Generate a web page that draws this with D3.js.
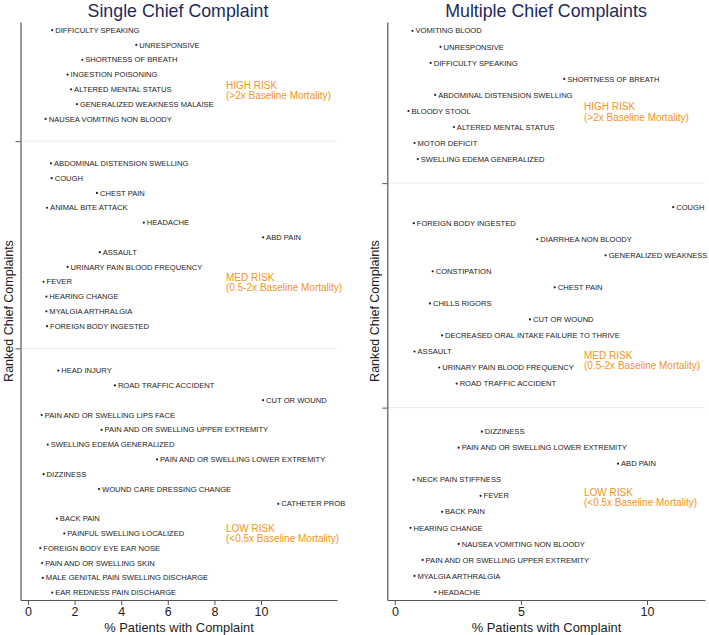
<!DOCTYPE html>
<html><head><meta charset="utf-8">
<script src="https://cdn.jsdelivr.net/npm/d3@7"></script>
<style>body{margin:0;background:#fff}svg{display:block}</style>
</head><body><svg id="c" width="709" height="635"></svg>
<script>
// ---- Single chief complaint ----
const singleHighNames = ["DIFFICULTY SPEAKING","UNRESPONSIVE","SHORTNESS OF BREATH","INGESTION POISONING","ALTERED MENTAL STATUS","GENERALIZED WEAKNESS MALAISE","NAUSEA VOMITING NON BLOODY"];
const singleHighVals = [1.04,4.65,2.33,1.70,1.85,2.10,0.76];
const singleMedNames = ["ABDOMINAL DISTENSION SWELLING","COUGH","CHEST PAIN","ANIMAL BITE ATTACK","HEADACHE","ABD PAIN","ASSAULT","URINARY PAIN BLOOD FREQUENCY","FEVER","HEARING CHANGE","MYALGIA ARTHRALGIA","FOREIGN BODY INGESTED"];
const singleMedVals = [0.99,1.02,2.96,0.82,4.97,10.09,3.08,1.70,0.67,0.79,0.79,0.82];
const singleLowNames = ["HEAD INJURY","ROAD TRAFFIC ACCIDENT","CUT OR WOUND","PAIN AND OR SWELLING LIPS FACE","PAIN AND OR SWELLING UPPER EXTREMITY","SWELLING EDEMA GENERALIZED","PAIN AND OR SWELLING LOWER EXTREMITY","DIZZINESS","WOUND CARE DRESSING CHANGE","CATHETER PROB","BACK PAIN","PAINFUL SWELLING LOCALIZED","FOREIGN BODY EYE EAR NOSE","PAIN AND OR SWELLING SKIN","MALE GENITAL PAIN SWELLING DISCHARGE","EAR REDNESS PAIN DISCHARGE"];
const singleLowVals = [1.30,3.73,10.09,0.59,3.16,0.85,5.54,0.67,3.05,10.74,1.24,1.56,0.53,0.61,0.64,1.04];
const singleTicks = [0,2,4,6,8,10];

// ---- Multiple chief complaints ----
const multiHighNames = ["VOMITING BLOOD","UNRESPONSIVE","DIFFICULTY SPEAKING","SHORTNESS OF BREATH","ABDOMINAL DISTENSION SWELLING","BLOODY STOOL","ALTERED MENTAL STATUS","MOTOR DEFICIT","SWELLING EDEMA GENERALIZED"];
const multiHighVals = [0.70,1.81,1.42,6.72,1.60,0.54,2.34,0.78,0.91];
const multiMedNames = ["COUGH","FOREIGN BODY INGESTED","DIARRHEA NON BLOODY","GENERALIZED WEAKNESS","CONSTIPATION","CHEST PAIN","CHILLS RIGORS","CUT OR WOUND","DECREASED ORAL INTAKE FAILURE TO THRIVE","ASSAULT","URINARY PAIN BLOOD FREQUENCY","ROAD TRAFFIC ACCIDENT"];
const multiMedVals = [11.04,0.75,5.65,8.36,1.50,6.34,1.39,5.36,1.87,0.78,1.76,2.45];
const multiLowNames = ["DIZZINESS","PAIN AND OR SWELLING LOWER EXTREMITY","ABD PAIN","NECK PAIN STIFFNESS","FEVER","BACK PAIN","HEARING CHANGE","NAUSEA VOMITING NON BLOODY","PAIN AND OR SWELLING UPPER EXTREMITY","MYALGIA ARTHRALGIA","HEADACHE"];
const multiLowVals = [3.45,2.53,8.85,0.75,3.40,1.87,0.62,2.53,1.10,0.78,1.60];
const multiTicks = [0,5,10];

const riskTitles = ["HIGH RISK","MED RISK","LOW RISK"];
const riskSubs = ["(>2x Baseline Mortality)","(0.5-2x Baseline Mortality)","(<0.5x Baseline Mortality)"];

const svg = d3.select("#c");
const FONT = "'Liberation Sans', Arial, Helvetica, sans-serif";
const ORANGE = "#f39323";

function panel(opt){
  const groups = opt.groups;
  const rows = []; const seps = []; const groupRange = [];
  let idx = 0;
  groups.forEach((g,gi)=>{
    if(gi>0){ seps.push(idx + 0.5); idx += 2; }
    const start = idx;
    g.names.forEach((n,i)=>{ rows.push({name:n, v:g.vals[i], r:idx}); idx++; });
    groupRange.push([start, idx-1]);
  });
  const nRows = idx - 1;
  const y = d3.scaleLinear().domain([-0.55, nRows + 0.5]).range([opt.top, opt.bottom]);
  const x = d3.scaleLinear().domain(opt.xDomain).range([opt.left, opt.right]);
  const g = svg.append("g");

  g.selectAll("line.sep").data(seps).join("line")
    .attr("x1", opt.left).attr("x2", opt.right)
    .attr("y1", d=>y(d)).attr("y2", d=>y(d))
    .attr("stroke", "#e6eef0").attr("stroke-width", 1);

  const ya = d3.axisLeft(y).tickValues(seps).tickFormat("").tickSize(5).tickSizeOuter(0);
  const yg = g.append("g").attr("transform", `translate(${opt.left},0)`).call(ya);
  yg.select(".domain").attr("stroke", "#555").attr("stroke-width", 1.2);
  yg.selectAll(".tick line").attr("stroke", "#555");

  const xa = d3.axisBottom(x).tickValues(opt.ticks).tickSize(5).tickSizeOuter(0).tickFormat(d3.format("d"));
  const xg = g.append("g").attr("transform", `translate(0,${opt.bottom})`).call(xa);
  xg.select(".domain").attr("stroke", "#555").attr("stroke-width", 1.2);
  xg.selectAll(".tick line").attr("stroke", "#555");
  xg.selectAll(".tick text").attr("font-family", FONT).attr("font-size", 12.5).attr("fill", "#222")
    .attr("y", 7).attr("dy", "0.71em");

  g.selectAll("circle.pt").data(rows).join("circle")
    .attr("cx", d=>x(d.v)).attr("cy", d=>y(d.r)).attr("r", 1.1).attr("fill", "#222");
  g.selectAll("text.lbl").data(rows).join("text")
    .attr("x", d=>x(d.v)+3).attr("y", d=>y(d.r)).attr("dy", "0.35em")
    .attr("font-family", FONT).attr("font-size", 7.6).attr("fill", "#222")
    .text(d=>d.name);

  groupRange.forEach((gr,i)=>{
    const t = g.append("text").attr("font-family", FONT).attr("font-size", 10).attr("fill", ORANGE)
      .attr("x", opt.riskX).attr("y", opt.riskY[i]);
    t.append("tspan").attr("x", opt.riskX).text(riskTitles[i]);
    t.append("tspan").attr("x", opt.riskX).attr("dy", 10.8).text(riskSubs[i]);
  });

  svg.append("text").attr("x", opt.titleX).attr("y", 17).attr("text-anchor","middle")
    .attr("font-family", FONT).attr("font-size", 17.8).attr("fill", "#1d2a5a").text(opt.title);
  svg.append("text").attr("x", opt.xTitleX).attr("y", 632).attr("text-anchor","middle")
    .attr("font-family", FONT).attr("font-size", 12.9).attr("fill", "#222").text("% Patients with Complaint");
  svg.append("text").attr("transform", `translate(${opt.left-8},${(opt.top+opt.bottom)/2}) rotate(-90)`)
    .attr("text-anchor","middle").attr("font-family", FONT).attr("font-size", 12.5).attr("fill", "#222")
    .text("Ranked Chief Complaints");
}

panel({
  title: "Single Chief Complaint", titleX: 178, xTitleX: 179,
  groups: [{names:singleHighNames, vals:singleHighVals},{names:singleMedNames, vals:singleMedVals},{names:singleLowNames, vals:singleLowVals}],
  left: 20.5, right: 337, top: 22, bottom: 600, xDomain: [-0.32, 13.26], ticks: singleTicks,
  riskX: 226, riskY: [88.5, 280.5, 531.5]
});
panel({
  title: "Multiple Chief Complaints", titleX: 546, xTitleX: 546.5,
  groups: [{names:multiHighNames, vals:multiHighVals},{names:multiMedNames, vals:multiMedVals},{names:multiLowNames, vals:multiLowVals}],
  left: 387.3, right: 705, top: 22, bottom: 600, xDomain: [-0.3, 12.3], ticks: multiTicks,
  riskX: 584, riskY: [110, 358.5, 495.5]
});
</script></body></html>
